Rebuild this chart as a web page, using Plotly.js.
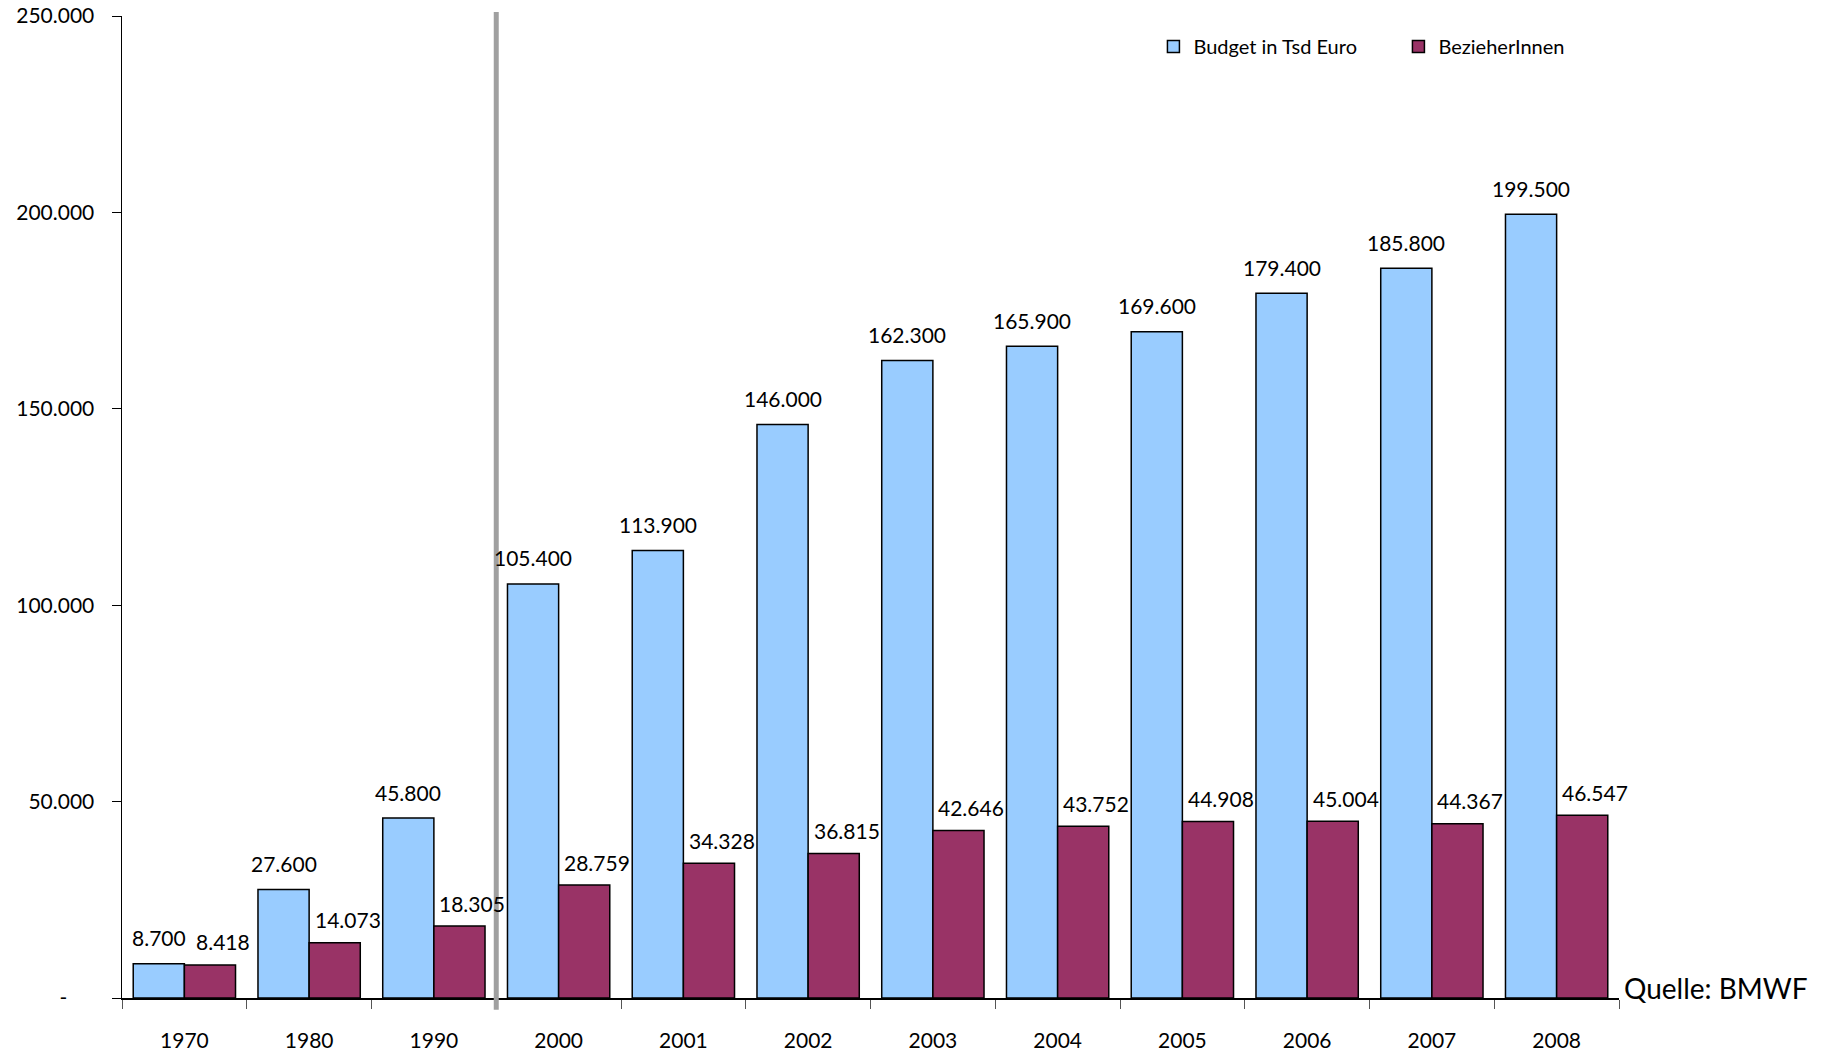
<!DOCTYPE html>
<html>
<head>
<meta charset="utf-8">
<script src="https://cdn.plot.ly/plotly-3.0.1.min.js"></script>
<style>html,body{margin:0;padding:0;background:#fff;}#chart{width:1830px;height:1056px;}</style>
</head>
<body>
<div id="chart"></div>
<script>
const years = ['1970','1980','1990','2000','2001','2002','2003','2004','2005','2006','2007','2008'];
const budget = [8700, 27600, 45800, 105400, 113900, 146000, 162300, 165900, 169600, 179400, 185800, 199500];
const bezieher = [8418, 14073, 18305, 28759, 34328, 36815, 42646, 43752, 44908, 45004, 44367, 46547];
const yTickVals = [0, 50000, 100000, 150000, 200000, 250000];
const yTickText = ['-\u00a0\u00a0\u00a0\u00a0\u00a0', '50.000', '100.000', '150.000', '200.000', '250.000'];
const seriesNames = ['Budget in Tsd Euro', 'BezieherInnen'];
const sourceText = 'Quelle: BMWF';

const FONT = 'Lato, "Open Sans", sans-serif';

const W = 1830, H = 1056;
const M = {l: 122, r: 211, t: 16, b: 58};
const BARGAP = 0.18;
const catW = (W - M.l - M.r) / years.length;
const barW = catW * (1 - BARGAP) / 2;

function fmt(v) {
  return String(v).replace(/\B(?=(\d{3})+(?!\d))/g, '.');
}

// x given as category index (the axis is a category axis)
function labelAnnotations(values, xshift, yshift) {
  return values.map((v, i) => ({
    x: i, y: v, xref: 'x', yref: 'y',
    text: fmt(v), showarrow: false,
    xanchor: 'center', yanchor: 'middle',
    xshift: xshift, yshift: yshift,
    font: {family: FONT, size: 21, color: '#000'}
  }));
}

const traces = [
  {
    type: 'bar', x: years, y: budget, name: seriesNames[0],
    marker: {color: '#99CCFF', line: {color: '#000', width: 1.5}},
    hoverinfo: 'x+y'
  },
  {
    type: 'bar', x: years, y: bezieher, name: seriesNames[1],
    marker: {color: '#993366', line: {color: '#000', width: 1.5}},
    hoverinfo: 'x+y'
  }
];

const annotations = []
  .concat(labelAnnotations(budget, -barW / 2, 26))
  .concat(labelAnnotations(bezieher, barW / 2 + 13, 23))
  .concat([{
    text: sourceText, xref: 'paper', yref: 'paper',
    x: 1.002, y: 0, xanchor: 'left', yanchor: 'bottom', yshift: -9,
    showarrow: false, font: {family: FONT, size: 28, color: '#000'}
  }]);

const layout = {
  width: W, height: H,
  margin: M,
  paper_bgcolor: '#fff', plot_bgcolor: '#fff',
  font: {family: FONT, size: 21, color: '#000'},
  separators: ',.',
  barmode: 'group',
  bargap: BARGAP,
  bargroupgap: 0,
  showlegend: true,
  legend: {
    orientation: 'h', x: 0.689, xanchor: 'left', y: 0.969, yanchor: 'middle',
    font: {family: FONT, size: 20, color: '#000'},
    entrywidth: 200, entrywidthmode: 'pixels',
    bgcolor: 'rgba(0,0,0,0)', itemclick: false
  },
  xaxis: {
    type: 'category',
    range: [-0.5, years.length - 0.5],
    showline: true, linecolor: '#000', linewidth: 1.5,
    ticks: 'outside', tickson: 'boundaries', ticklen: 9, tickcolor: '#555', tickwidth: 1,
    tickfont: {family: FONT, size: 21, color: '#000'},
    ticklabelstandoff: 23,
    showgrid: false, zeroline: false, fixedrange: true
  },
  yaxis: {
    range: [0, 250000],
    tickvals: yTickVals, ticktext: yTickText,
    showline: true, linecolor: '#000', linewidth: 1.5,
    ticks: 'outside', ticklen: 9, tickcolor: '#000', tickwidth: 1,
    tickfont: {family: FONT, size: 21, color: '#000'},
    ticklabelstandoff: 13,
    showgrid: false, zeroline: false, fixedrange: true
  },
  shapes: [{
    type: 'line', xref: 'x', yref: 'paper',
    x0: 2.5, x1: 2.5, y0: -0.012, y1: 1.004,
    line: {color: '#A0A0A0', width: 5}
  }],
  annotations: annotations
};

Plotly.newPlot('chart', traces, layout, {displayModeBar: false, staticPlot: true});
</script>
</body>
</html>
